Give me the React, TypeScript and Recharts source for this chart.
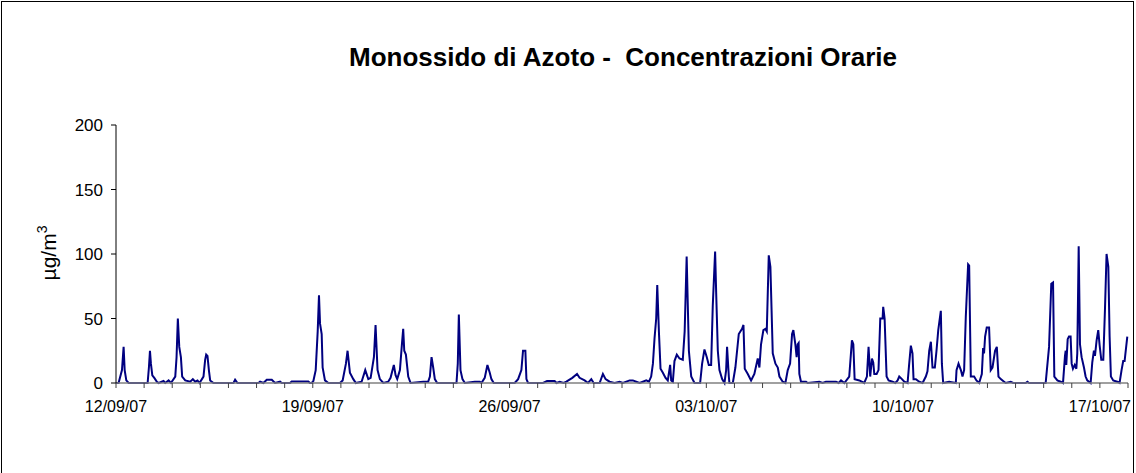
import React from 'react';
import { LineChart, Line, XAxis, YAxis } from 'recharts';

// hour offsets from 12/09/07 00:00
const hours = [
  0, 2.2, 5.1, 6.5, 7.4, 8.8, 10.8, 27, 28.1, 29, 29.8, 31, 32.7, 34.9, 36.4, 40.6, 42, 44.9, 46.9,
  50.6, 51.7, 52.8, 54, 55.4, 56.5, 59.1, 63.4, 65.6, 67.6, 69.6, 71.3, 74.7, 76.1, 77, 78.1, 79.3, 80.4, 83.2,
  100.3, 101.7, 103.7, 121.6, 123, 125.9, 128.7, 133, 135.8, 140.1, 141.5, 148.6, 150, 164.2, 165.6,
  167, 168.5, 170.5, 172.2, 173.3, 174.2, 175.6, 176.4, 178.4, 181.3, 191.2, 193.5, 196.3, 197.7, 199.7, 202.6, 204.8,
  209.7, 212.8, 215.4, 217.4, 220.2, 221.6, 223.3, 225.3, 228.2, 232.4, 234.4, 237.2, 238.7, 240.1, 242.4, 244.1,
  245.2, 246.1, 247.5, 249.5, 251.5, 262.3, 266.5, 268, 269.4, 270.8, 272.2, 274.2, 290.7, 291.8, 292.7, 294.1,
  295.8, 297.8, 306.3, 310.6, 312, 314.8, 317.1, 319.1, 320.5, 322.5, 340.4, 343.3, 346.1, 347.5, 349.5, 350.4,
  351.8, 364.6, 368, 374.5, 376, 378.8, 382.2, 384.5, 389.6, 393.6, 395.8, 400.1, 403, 405.8, 407.8, 412.9, 415.7,
  418, 421.4, 425.7, 430, 432.8, 438.5, 441.3, 444.1, 447, 449.8, 452.7, 455, 456.9, 458.4, 459.8, 461.2, 462.1,
  463.5, 464.9, 466.9, 469.2, 471.1, 473.1, 474, 475.4, 476.8, 478.8, 481.1, 483.9, 485.5, 487.2, 489.1, 491.1,
  493.9, 498.7, 500.4, 502.4, 504.4, 506.1, 508.1, 509.5, 511.5, 512.4, 513.8, 515.2, 517.5, 519.5, 520.9, 521.7,
  523.2, 523.7, 526.6, 528.8, 531.7, 534.5, 535.7, 536.8, 539.4, 542.2, 545, 547.9, 549.3, 550.7, 552.7, 554.4,
  555.6, 557.3, 558.7, 560.7, 563, 565, 566.4, 569.2, 571.5, 573.5, 575.5, 577.2, 578.3, 580, 581.1, 582, 582.8,
  583.4, 584.8, 589.1, 590.5, 600.5, 603.3, 606.1, 614.7, 617, 619, 621.8, 626, 628.3, 629.5, 630.6, 634.6, 638.8,
  641.1, 642.5, 643.9, 645.4, 646.5, 647.4, 649.4, 651, 652.5, 654.5, 655, 656.2, 657.9, 659.6, 663, 665.3, 667.3,
  668.7, 671, 673, 675.8, 677.2, 678.6, 680, 680.9, 682.9, 685.7, 688.6, 691.4, 692.8, 694.3, 695.7, 697.1, 699.1,
  700.5, 702, 704.2, 705.1, 706.2, 711.3, 717, 717.6, 719.3, 721.3, 722.7, 724.1, 725.5, 727.5, 728.4, 729.8, 732.6,
  734.6, 736.9, 739.2, 740.3, 741.1, 742, 743.4, 745.4, 746.8, 748.3, 750.5, 752, 753.4, 755.4, 758.2, 759.6, 763.9,
  765.9, 776.7, 778.1, 779.5, 793.7, 796.6, 798.5, 800, 801.1, 803.7, 806.5, 808.5, 810.2, 810.8, 811.3, 812.5,
  813.6, 815, 815.9, 817, 818.5, 819.9, 820.7, 821.9, 823, 824.4, 826.4, 827.8, 829.2, 832.1, 833.5, 834.9, 835.8,
  837.2, 838.6, 839.8, 841.2, 842.9, 844.3, 845.7, 847.2, 848.3, 849.4, 851.4, 854.8, 856.8, 858.5, 859.9, 861.1, 863.4,
];

// NO concentration, µg/m3
const concentrations = [
  0, 0, 10, 28, 10, 2, 0, 0, 12, 25, 15, 6, 4, 1, 0, 1.5, 0, 2, 0,
  5, 20, 50, 28, 20, 5, 2, 1, 3, 1, 2, 0, 5, 18, 22, 21, 10, 2, 0,
  0, 2.6, 0, 0, 1, 0, 2.5, 2.5, 0, 1, 0, 0, 1.2, 1.2, 0,
  0, 1.5, 10, 40, 68, 46, 38, 12, 2, 0, 0, 2, 15, 25, 8, 3, 0,
  1, 10, 3, 4, 20, 45, 10, 3, 0, 1, 4, 14, 6, 3, 10, 30,
  42, 25, 22, 5, 0, 1, 1, 5, 20, 12, 3, 0, 0, 15, 53, 10,
  3, 0, 1, 1, 0, 4, 14, 8, 3, 0, 0, 3, 10, 25, 25, 3,
  0, 0, 1.5, 1.5, 0, 1, 0, 1, 4, 7, 4, 2, 0, 3, 0, 0, 7,
  3, 1, 0, 1, 0, 2, 2, 1, 0, 1, 2, 1, 5, 15, 35, 50, 76,
  40, 11, 8, 4, 2, 14, 2, 1, 17, 22, 19, 18, 40, 98, 25, 5,
  0, 0, 15, 26, 20, 14, 14, 60, 102, 70, 25, 10, 3, 0, 10, 28,
  5, 0, 0, 12, 38, 42, 45, 11, 7, 2, 7, 19, 12, 30, 41, 42,
  40, 99, 90, 23, 15, 12, 5, 1, 0, 10, 15, 38, 41, 30, 20, 30, 31,
  7, 1, 1, 0, 1, 0, 1, 1, 0, 2, 0, 5, 33, 30, 3, 2, 0,
  5, 28, 5, 19, 16, 7, 7, 10, 50, 50, 59, 50, 5, 2, 1, 0, 2,
  5, 3, 1, 0, 15, 29, 23, 3, 3, 1, 0, 5, 9, 25, 32, 12, 12,
  25, 41, 56, 15, 0, 1, 0, 10, 15, 10, 5, 10, 51, 92, 91, 5, 5,
  2, 0, 7, 27, 23, 36, 43, 43, 10, 12, 25, 28, 5, 3, 1, 0, 1,
  0, 0, 1, 0, 0, 28, 77, 78, 5, 2, 1, 0, 21, 25, 14, 34,
  36, 36, 15, 11, 14, 11, 23, 106, 30, 20, 12, 5, 2, 0, 16, 25, 21,
  33, 41, 29, 18, 18, 56, 100, 90, 36, 5, 2, 1, 0, 10, 17, 17, 36,
];

const dayTicks = [0, 24, 48, 72, 96, 120, 144, 168, 192, 216, 240, 264, 288, 312, 336, 360, 384, 408, 432, 456,
  480, 504, 528, 552, 576, 600, 624, 648, 672, 696, 720, 744, 768, 792, 816, 840, 864];
const weekLabels: Record<number, string> = {
  0: '12/09/07', 168: '19/09/07', 336: '26/09/07', 504: '03/10/07', 672: '10/10/07', 840: '17/10/07',
};
const yTicks = [0, 50, 100, 150, 200];

const data = hours.map((h, i) => ({ h, v: concentrations[i] }));

const FONT = 'Arial, "Liberation Sans", sans-serif';

export default function App() {
  return (
    <div style={{ position: 'absolute', left: 0, top: 0, width: 1136, height: 473, background: '#fff', fontFamily: FONT, overflow: 'hidden' }}>
      <div style={{ position: 'absolute', left: 1, top: 1, width: 1133, height: 490, border: '1px solid #000', boxSizing: 'border-box' }} />
      <div style={{ position: 'absolute', left: 0, width: 1246, top: 42, textAlign: 'center', fontWeight: 'bold', fontSize: 26, color: '#000', whiteSpace: 'pre' }}>
        {'Monossido di Azoto -  Concentrazioni Orarie'}
      </div>
      <svg style={{ position: 'absolute', left: 0, top: 0 }} width={100} height={473}>
        <text transform="translate(56,253) rotate(-90)" textAnchor="middle" fontSize={21} fontFamily={FONT} fill="#000">
          µg/m<tspan dy={-9} fontSize={14}>3</tspan>
        </text>
      </svg>
      <div style={{ position: 'absolute', left: 0, top: 0 }}>
        <LineChart width={1136} height={473} data={data} margin={{ top: 125, right: 8, bottom: 60, left: 56 }}>
          <XAxis
            dataKey="h"
            type="number"
            domain={[0, 864]}
            ticks={dayTicks}
            interval={0}
            tickFormatter={(t: number) => weekLabels[t] ?? ''}
            axisLine={{ stroke: '#808080', strokeWidth: 1.5 }}
            tickLine={{ stroke: '#404040' }}
            tickSize={5}
            tickMargin={13}
            tick={{ fill: '#000', fontSize: 16, fontFamily: FONT }}
            height={30}
          />
          <YAxis
            domain={[0, 200]}
            ticks={yTicks}
            interval={0}
            axisLine={{ stroke: '#000' }}
            tickLine={{ stroke: '#000' }}
            tickSize={5}
            tickMargin={8}
            tick={{ fill: '#000', fontSize: 17, fontFamily: FONT }}
            width={60}
          />
          <Line
            type="linear"
            dataKey="v"
            stroke="#000080"
            strokeWidth={2}
            dot={false}
            isAnimationActive={false}
          />
        </LineChart>
      </div>
    </div>
  );
}
